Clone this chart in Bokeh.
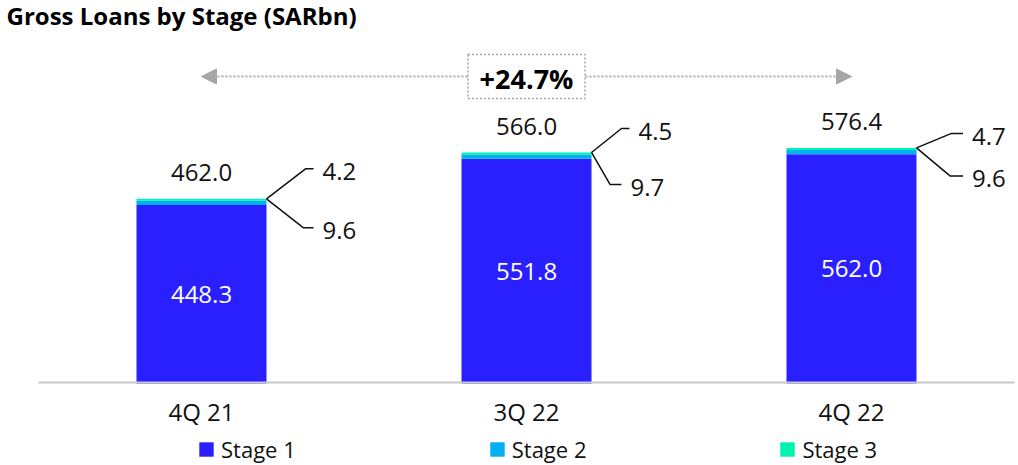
from bokeh.plotting import figure
from bokeh.models import (Range1d, Legend, LegendItem, Arrow,
                          NormalHead, ColumnDataSource, Label)
from bokeh.embed import file_html
from bokeh.resources import INLINE
from bokeh.core.properties import value

# ---------------- data ----------------
quarters = ["4Q 21", "3Q 22", "4Q 22"]
stage1 = [448.3, 551.8, 562.0]
stage2 = [9.6, 9.7, 9.6]
stage3 = [4.2, 4.5, 4.7]
totals = [462.0, 566.0, 576.4]
series_names = ["Stage 1", "Stage 2", "Stage 3"]
growth_label = "+24.7%"
title_text = "Gross Loans by Stage (SARbn)"

# ---------------- layout / style ----------------
FONT = "Open Sans"
C1, C2, C3 = "#2a1fff", "#00b0f0", "#00f2b0"
INK = "#111111"
GREY = "#a6a6a6"

FIG_W, FIG_H = 1018, 465
BASE_PX = 383                  # screen row of the category baseline
PX_X = 325.0                   # pixels per category
PX_Y = 0.446                   # pixels per SARbn
X0 = -201 / PX_X
AXIS_FLOOR = 48.0              # value axis starts here (truncated axis)
Y_START = AXIS_FLOOR - (FIG_H - BASE_PX) / PX_Y
BAR_W = 130 / PX_X
BASE_X0, BASE_X1 = 38, 1014    # extent of the grey baseline, px

def dx(px):
    return px / PX_X

def dy(px):                    # px measured downward on screen
    return -px / PX_Y

xs = list(range(len(quarters)))
top1 = stage1
top2 = [a + b for a, b in zip(stage1, stage2)]
top3 = [a + b for a, b in zip(top2, stage3)]

p = figure(frame_width=FIG_W, frame_height=FIG_H,
           x_range=Range1d(X0, X0 + FIG_W / PX_X),
           y_range=Range1d(Y_START, Y_START + FIG_H / PX_Y),
           output_backend="svg", toolbar_location=None,
           x_axis_location=None, y_axis_location=None,
           min_border=0, outline_line_color=None)
p.grid.visible = False

src = ColumnDataSource(dict(x=xs, floor=[AXIS_FLOOR] * len(xs),
                            top1=top1, top2=top2, top3=top3))
r1 = p.vbar(x="x", bottom="floor", top="top1", width=BAR_W, source=src,
            fill_color=C1, line_color=None)
r2 = p.vbar(x="x", bottom="top1", top="top2", width=BAR_W, source=src,
            fill_color=C2, line_color=None)
r3 = p.vbar(x="x", bottom="top2", top="top3", width=BAR_W, source=src,
            fill_color=C3, line_color=None)

# grey baseline
p.segment(x0=[X0 + dx(BASE_X0)], x1=[X0 + dx(BASE_X1)],
          y0=[AXIS_FLOOR + 1 / PX_Y], y1=[AXIS_FLOOR + 1 / PX_Y],
          line_color="#c8c8c8", line_width=2)

# category labels
p.text(x=xs, y=[AXIS_FLOOR + dy(27.5)] * len(xs), text=quarters,
       text_font=value(FONT), text_font_size="24px", text_color=INK,
       text_align="center", text_baseline="middle")

# value labels
p.text(x=xs, y=[t + dy(-26) for t in top3], text=[f"{v:.1f}" for v in totals],
       text_font=value(FONT), text_font_size="24px", text_color=INK,
       text_align="center", text_baseline="middle")
p.text(x=xs, y=[(AXIS_FLOOR + s) / 2 for s in stage1], text=[f"{v:.1f}" for v in stage1],
       text_font=value(FONT), text_font_size="24px", text_color="white",
       text_align="center", text_baseline="middle")

# callouts (pixel offsets from bar top-right corner)
UP_EL = [(39, -30), (30, -24), (35, -14.5)]
UP_END = [47, 38, 46.5]
LO_EL = [(37, 29), (18.5, 32), (33.5, 28)]
LO_END = [47, 30, 46.5]
lxs, lys = [], []
tx, ty, tt = [], [], []
for i, x in enumerate(xs):
    cx, cy = x + BAR_W / 2, top3[i]
    for (ex, ey), end, lab in ((UP_EL[i], UP_END[i], stage3[i]),
                               (LO_EL[i], LO_END[i], stage2[i])):
        lxs.append([cx, cx + dx(ex), cx + dx(end)])
        lys.append([cy, cy + dy(ey), cy + dy(ey)])
        tx.append(cx + dx(end + 9))
        ty.append(cy + dy(ey + 3))
        tt.append(f"{lab:.1f}")
p.multi_line(xs=lxs, ys=lys, line_color=INK, line_width=1.5)
p.text(x=tx, y=ty, text=tt, text_font=value(FONT), text_font_size="24px",
       text_color=INK, text_align="left", text_baseline="middle")

# growth arrow
AY = AXIS_FLOOR + 307 / PX_Y
arrow = Arrow(x_start=xs[0], y_start=AY, x_end=xs[-1], y_end=AY,
              start=NormalHead(size=15, fill_color=GREY, line_color=GREY),
              end=NormalHead(size=15, fill_color=GREY, line_color=GREY),
              line_color=GREY, line_width=2, line_dash="2 2", level="underlay")
p.add_layout(arrow)
mid = xs[len(xs) // 2]
p.rect(x=[mid], y=[AY], width=[117], height=[44], width_units="screen",
       height_units="screen", fill_color="white", line_color=GREY,
       line_width=1.5, line_dash="2 2")
p.text(x=[mid], y=[AY + dy(2)], text=[growth_label], text_font=value(FONT),
       text_font_size="27px", text_font_style="bold", text_color="#000000",
       text_align="center", text_baseline="middle")

# title (screen units are relative to the frame's bottom-left corner)
p.add_layout(Label(x=6, y=FIG_H - 15, x_units="screen", y_units="screen",
                   text=title_text, text_font=FONT, text_font_style="bold",
                   text_font_size="24px", text_color="#000000",
                   text_baseline="alphabetic", text_align="left"))

legend = Legend(items=[LegendItem(label=n, renderers=[r])
                       for n, r in zip(series_names, [r1, r2, r3])],
                orientation="horizontal", location=(197, 1), spacing=192,
                glyph_width=18, glyph_height=18, label_standoff=6,
                label_text_font=FONT, label_text_font_size="22px",
                label_text_color=INK, padding=0, margin=0,
                border_line_color=None, background_fill_alpha=0)
p.add_layout(legend, "center")

open("out.html", "w").write(file_html(p, INLINE))
